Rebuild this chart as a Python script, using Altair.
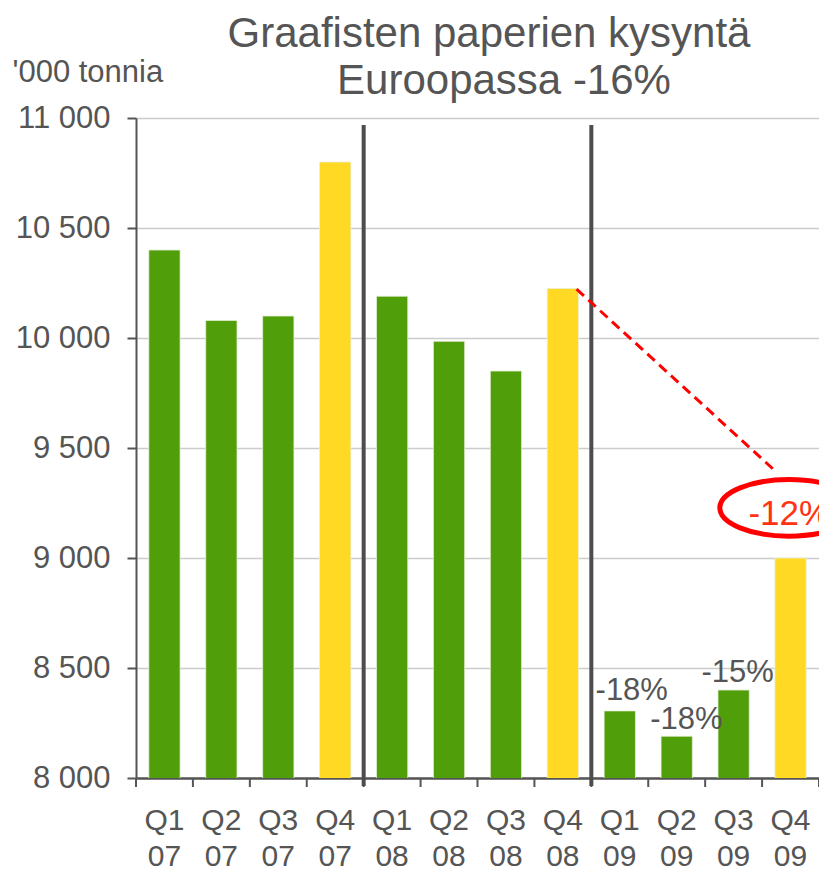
import altair as alt
import pandas as pd

# ---- data ----
quarters = ["Q1 07", "Q2 07", "Q3 07", "Q4 07",
            "Q1 08", "Q2 08", "Q3 08", "Q4 08",
            "Q1 09", "Q2 09", "Q3 09", "Q4 09"]
demand = [10400, 10080, 10100, 10800,
          10190, 9985, 9850, 10225,
          8305, 8190, 8400, 9000]
bar_kind = ["q", "q", "q", "q4", "q", "q", "q", "q4", "q", "q", "q", "q4"]

change_labels = ["-18%", "-18%", "-15%"]
change_pos = [8.71, 9.67, 10.57]
change_val = [8395, 8263, 8478]

separator_pos = [4, 8]
separator_top = [10968, 10968]
separator_bottom = [7964, 7964]

# x-axis tick marks sit on the boundaries between quarters
boundary_pos = [0, 1, 2, 3, 4, 5, 6, 7, 8, 9, 10, 11, 12]
tick_top = 8000
tick_bottom = 7959

trend_pos = [7.74, 11.25]
trend_val = [10222, 9391]

highlight_label = ["-12%"]
highlight_pos = [10.76]
highlight_val = [9201]
ellipse_pos = [11.47]
ellipse_val = [9228]

title_lines = ["Graafisten paperien kysyntä", "Euroopassa -16%"]
unit_label = "'000 tonnia"

y_ticks = [8000, 8500, 9000, 9500, 10000, 10500, 11000]

GREEN = "#519e0b"
YELLOW = "#ffd923"
GRAY = "#555555"
FONT = "Liberation Sans"

bars_df = pd.DataFrame({"quarter": quarters, "value": demand, "kind": bar_kind})
chg_df = pd.DataFrame({"label": change_labels, "pos": change_pos, "value": change_val})
sep_df = pd.DataFrame({"pos": separator_pos, "top": separator_top, "bottom": separator_bottom})
tick_df = pd.DataFrame({"pos": boundary_pos,
                        "top": [tick_top] * len(boundary_pos),
                        "bottom": [tick_bottom] * len(boundary_pos)})
trend_df = pd.DataFrame({"pos": trend_pos, "value": trend_val})
hl_df = pd.DataFrame({"label": highlight_label, "pos": highlight_pos, "value": highlight_val})
ell_df = pd.DataFrame({"pos": ellipse_pos, "value": ellipse_val})

yscale = alt.Scale(domain=[8000, 11000], nice=False, zero=False)
xnum = alt.Scale(domain=[0, 12], nice=False, zero=False)

bars = alt.Chart(bars_df).mark_bar(clip=True, stroke="#e8f0d8", strokeWidth=0.8).encode(
    x=alt.X("quarter:N", sort=quarters,
            scale=alt.Scale(paddingInner=0.45, paddingOuter=0.225),
            axis=alt.Axis(title=None, labelExpr="split(datum.label, ' ')",
                          labelFontSize=30, labelColor=GRAY, labelFont=FONT,
                          labelLineHeight=36, labelPadding=27, labelAngle=0,
                          ticks=False, domainColor=GRAY, domainWidth=2.5, grid=False)),
    y=alt.Y("value:Q", scale=yscale,
            axis=alt.Axis(values=y_ticks,
                          labelExpr="replace(format(datum.value, ','), ',', ' ')",
                          labelFontSize=31, labelColor=GRAY, labelFont=FONT,
                          labelPadding=17, tickSize=9, tickColor=GRAY, tickWidth=2,
                          domainColor=GRAY, domainWidth=2,
                          gridColor="#cccccc", gridWidth=1.5,
                          title=unit_label, titleAngle=0, titleAlign="left",
                          titleBaseline="middle", titleX=-124, titleY=-46,
                          titleFontSize=31, titleFontWeight="normal",
                          titleColor=GRAY, titleFont=FONT)),
    color=alt.Color("kind:N", scale=alt.Scale(domain=["q", "q4"], range=[GREEN, YELLOW]),
                    legend=None),
)

xticks = alt.Chart(tick_df).mark_rule(color=GRAY, strokeWidth=2).encode(
    x=alt.X("pos:Q", scale=xnum, axis=None),
    y=alt.Y("top:Q", scale=yscale),
    y2="bottom:Q",
)

seps = alt.Chart(sep_df).mark_rule(color="#4d4d4d", strokeWidth=4).encode(
    x=alt.X("pos:Q", scale=xnum, axis=None),
    y=alt.Y("top:Q", scale=yscale),
    y2="bottom:Q",
)

trend = alt.Chart(trend_df).mark_line(color="#ff0000", strokeWidth=3,
                                      strokeDash=[10, 6]).encode(
    x=alt.X("pos:Q", scale=xnum, axis=None),
    y=alt.Y("value:Q", scale=yscale),
)

k = 0.5523
r = 0.41
ellipse_path = (
    f"M -1 0 C -1 {-k*r:.4f} {-k:.4f} {-r} 0 {-r} "
    f"C {k:.4f} {-r} 1 {-k*r:.4f} 1 0 "
    f"C 1 {k*r:.4f} {k:.4f} {r} 0 {r} "
    f"C {-k:.4f} {r} -1 {k*r:.4f} -1 0 Z"
)
ellipse = alt.Chart(ell_df).mark_point(shape=ellipse_path, size=19044, filled=False,
                                       stroke="#ff0000", strokeWidth=5,
                                       opacity=1).encode(
    x=alt.X("pos:Q", scale=xnum, axis=None),
    y=alt.Y("value:Q", scale=yscale),
)

hl_text = alt.Chart(hl_df).mark_text(align="left", baseline="middle", fontSize=35,
                                     color="#ff3311", font=FONT).encode(
    x=alt.X("pos:Q", scale=xnum, axis=None),
    y=alt.Y("value:Q", scale=yscale),
    text="label:N",
)

chg_text = alt.Chart(chg_df).mark_text(align="center", baseline="middle", fontSize=31,
                                       color=GRAY, font=FONT).encode(
    x=alt.X("pos:Q", scale=xnum, axis=None),
    y=alt.Y("value:Q", scale=yscale),
    text="label:N",
)

title1 = alt.Chart(pd.DataFrame({"t": [title_lines[0]]})).mark_text(
    align="center", baseline="middle", fontSize=42, color=GRAY, font=FONT
).encode(x=alt.value(353), y=alt.value(-84), text="t:N")
title2 = alt.Chart(pd.DataFrame({"t": [title_lines[1]]})).mark_text(
    align="center", baseline="middle", fontSize=42, color=GRAY, font=FONT
).encode(x=alt.value(368), y=alt.value(-37), text="t:N")

overlay = alt.layer(xticks, seps, trend, ellipse, hl_text, chg_text)

chart = alt.layer(bars, overlay, title1, title2).resolve_scale(x="independent").properties(
    width=683, height=660,
    padding={"left": 128, "top": 110, "right": 0, "bottom": 92},
    autosize=alt.AutoSizeParams(type="none"),
).configure_view(stroke=None)

chart.save("out.html", embed_options={"renderer": "svg", "actions": False})
